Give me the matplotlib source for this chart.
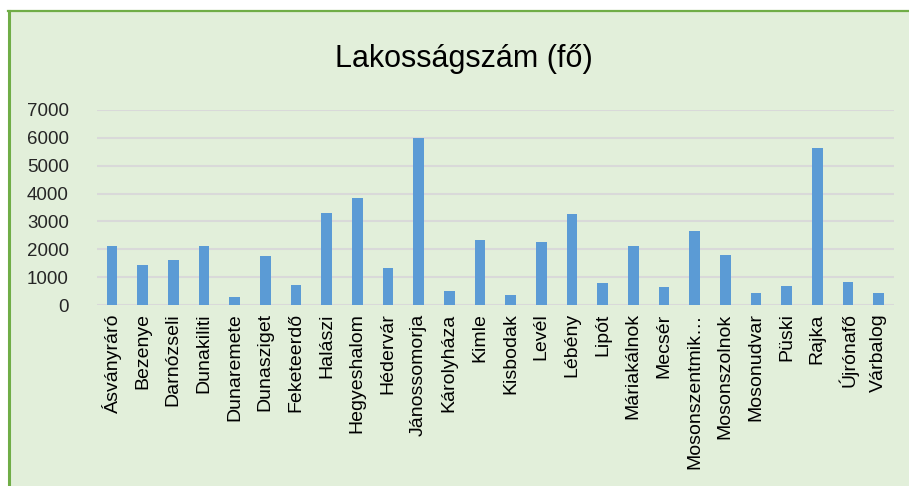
import matplotlib
matplotlib.use("Agg")
import matplotlib.pyplot as plt
from matplotlib.patches import Rectangle
from matplotlib.lines import Line2D

categories = ["Ásványráró", "Bezenye", "Darnózseli", "Dunakiliti", "Dunaremete",
              "Dunasziget", "Feketeerdő", "Halászi", "Hegyeshalom", "Hédervár",
              "Jánossomorja", "Károlyháza", "Kimle", "Kisbodak", "Levél", "Lébény",
              "Lipót", "Máriakálnok", "Mecsér", "Mosonszentmik…", "Mosonszolnok",
              "Mosonudvar", "Püski", "Rajka", "Újrónafő", "Várbalog"]
values = [2110, 1420, 1600, 2110, 270, 1750, 730, 3310, 3830, 1330,
          5990, 500, 2350, 360, 2250, 3270, 780, 2110, 630, 2670, 1800,
          420, 680, 5620, 810, 420]
yticks = [0, 1000, 2000, 3000, 4000, 5000, 6000, 7000]

plt.rcParams['font.family'] = ['Liberation Sans', 'DejaVu Sans']

W, H = 909, 486
fig = plt.figure(figsize=(W / 100, H / 100), dpi=100)
fig.patch.set_facecolor('white')

# chart frame background
bg = Rectangle((8 / W, 0), 1 - 8 / W, 1 - 11 / H, transform=fig.transFigure,
               facecolor='#E2EFDA', edgecolor='none', zorder=-10)
fig.patches.append(bg)
fig.lines.append(Line2D([8.5 / W, 8.5 / W], [0, 1 - 11 / H], transform=fig.transFigure,
                        color='#70AD47', lw=2.2, zorder=-5))
fig.lines.append(Line2D([8 / W, 1], [1 - 11.5 / H, 1 - 11.5 / H], transform=fig.transFigure,
                        color='#70AD47', lw=1.6, zorder=-5))

left, right = 96.7 / W, 894 / W
bottom, top = 1 - 305 / H, 1 - 110 / H
ax = fig.add_axes([left, bottom, right - left, top - bottom])
ax.set_zorder(5)
ax.set_facecolor('none')

x = list(range(len(categories)))
ax.bar(x, values, width=0.34, color='#5B9BD5', zorder=3)
ax.set_xlim(-0.5, len(categories) - 0.5)
ax.set_ylim(0, 7000)
ax.set_yticks(yticks)
ax.set_yticklabels([str(v) for v in yticks], fontsize=13.5, color='#262626')
ax.set_xticks(x)
ax.set_xticklabels(categories, rotation=90, fontsize=14, color='#000000')
ax.tick_params(axis='both', length=0)
ax.tick_params(axis='y', pad=20)
ax.tick_params(axis='x', pad=6)
ax.grid(axis='y', color='#D9D9D9', lw=1.5, zorder=0)
ax.set_axisbelow(True)
for s in ax.spines.values():
    s.set_visible(False)

fig.text(464 / W, 1 - 59 / H, "Lakosságszám (fő)", ha='center', va='center',
         fontsize=22, color='#000000', zorder=6)

fig.savefig('out.png', dpi=100, facecolor=fig.get_facecolor())
